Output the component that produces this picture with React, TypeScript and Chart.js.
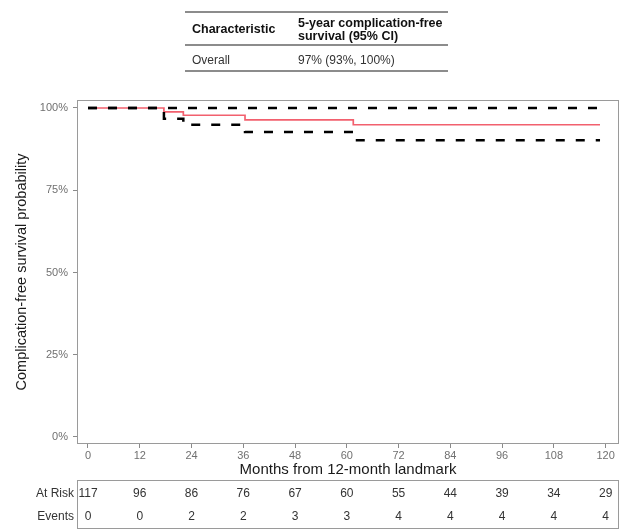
import React, { useEffect, useRef } from 'react';
import { Chart, registerables } from 'chart.js';

Chart.register(...registerables);

const FONT = '"Liberation Sans", Arial, Helvetica, sans-serif';

// ---- data ----
const xTicks = [0, 12, 24, 36, 48, 60, 72, 84, 96, 108, 120];
const yTicks = [0, 0.25, 0.5, 0.75, 1];
const survTimes = [0, 17.6, 22.1, 36.4, 61.5, 118.7];
const survEst = [1, 0.988, 0.978, 0.964, 0.949, 0.949];
const lowerCI = [1, 0.967, 0.949, 0.927, 0.902, 0.902];
const upperCI = [1, 1, 1, 1, 1, 1];
const atRisk = [117, 96, 86, 76, 67, 60, 55, 44, 39, 34, 29];
const events = [0, 0, 2, 2, 3, 3, 4, 4, 4, 4, 4];
const riskRowLabels = ['At Risk', 'Events'];
const tableHeader = ['Characteristic', '5-year complication-free', 'survival (95% CI)'];
const tableRow = ['Overall', '97% (93%, 100%)'];
const xTitle = 'Months from 12-month landmark';
const yTitle = 'Complication-free survival probability';

const toPoints = (ys: number[]) => survTimes.map((t, i) => ({ x: t, y: ys[i] }));

const overlayPlugin = {
  id: 'overlay',
  afterDraw(chart: any) {
    const { ctx, chartArea, scales } = chart;
    const x = scales.x;
    ctx.save();
    // panel border
    ctx.strokeStyle = '#9a9a9a';
    ctx.lineWidth = 1;
    ctx.strokeRect(
      chartArea.left + 0.5,
      chartArea.top + 0.5,
      chartArea.right - chartArea.left - 1,
      chartArea.bottom - chartArea.top - 1
    );
    // risk table box
    const boxTop = 480;
    const boxBottom = 528;
    ctx.strokeRect(chartArea.left + 0.5, boxTop + 0.5, chartArea.right - chartArea.left - 1, boxBottom - boxTop);
    const rowY = [494, 517];
    const rows = [atRisk, events];
    ctx.font = `12px ${FONT}`;
    ctx.fillStyle = '#333';
    ctx.textBaseline = 'middle';
    ctx.textAlign = 'right';
    riskRowLabels.forEach((lab, r) => ctx.fillText(lab, chartArea.left - 3, rowY[r]));
    ctx.textAlign = 'center';
    rows.forEach((vals, r) => {
      xTicks.forEach((t, i) => {
        ctx.fillText(String(vals[i]), x.getPixelForValue(t), rowY[r]);
      });
    });
    ctx.restore();
  },
};

export default function App() {
  const ref = useRef<HTMLCanvasElement>(null);

  useEffect(() => {
    if (!ref.current) return;
    const chart = new Chart(ref.current, {
      type: 'line',
      data: {
        datasets: [
          {
            label: 'Upper CI',
            data: toPoints(upperCI),
            stepped: 'before',
            borderColor: '#000',
            borderWidth: 2.5,
            borderDash: [9, 11],
            pointRadius: 0,
            fill: false,
            order: 1,
          },
          {
            label: 'Lower CI',
            data: toPoints(lowerCI),
            stepped: 'before',
            borderColor: '#000',
            borderWidth: 2.5,
            borderDash: [9, 11],
            pointRadius: 0,
            fill: false,
            order: 1,
          },
          {
            label: 'Estimate',
            data: toPoints(survEst),
            stepped: 'before',
            borderColor: '#F2606E',
            borderWidth: 1.7,
            pointRadius: 0,
            fill: false,
            order: 3,
          },
        ],
      },
      options: {
        animation: false,
        responsive: false,
        devicePixelRatio: 1,
        parsing: false,
        layout: { padding: { top: 100, right: 7, left: 0, bottom: 0 } },
        plugins: {
          legend: { display: false },
          tooltip: { enabled: false },
        },
        scales: {
          x: {
            type: 'linear',
            min: -2.55,
            max: 123.1,
            afterBuildTicks: (s: any) => {
              s.ticks = xTicks.map((v) => ({ value: v }));
            },
            afterFit: (s: any) => {
              s.height = 86;
            },
            ticks: {
              color: '#707070',
              font: { family: FONT, size: 11 },
              padding: 1,
              maxRotation: 0,
              autoSkip: false,
            },
            grid: { drawOnChartArea: false, drawTicks: true, tickLength: 4, color: '#8a8a8a' },
            border: { display: false },
            title: {
              display: true,
              text: xTitle,
              color: '#1a1a1a',
              font: { family: FONT, size: 15 },
              padding: { top: 0, bottom: 51 },
            },
          },
          y: {
            type: 'linear',
            min: -0.0213,
            max: 1.0243,
            afterBuildTicks: (s: any) => {
              s.ticks = yTicks.map((v) => ({ value: v }));
            },
            afterFit: (s: any) => {
              s.width = 77;
            },
            ticks: {
              color: '#707070',
              font: { family: FONT, size: 11 },
              padding: 5,
              callback: (v: any) => `${Math.round(Number(v) * 100)}%`,
            },
            grid: { drawOnChartArea: false, drawTicks: true, tickLength: 4, color: '#8a8a8a' },
            border: { display: false },
            title: {
              display: true,
              text: yTitle,
              color: '#1a1a1a',
              font: { family: FONT, size: 14.5 },
              padding: { top: 13, bottom: 0 },
            },
          },
        },
      },
      plugins: [overlayPlugin],
    } as any);
    return () => chart.destroy();
  }, []);

  const lineStyle = (top: number): React.CSSProperties => ({
    position: 'absolute',
    left: 185,
    top,
    width: 263,
    height: 2,
    background: '#8c8c8c',
  });
  const textStyle = (left: number, top: number, bold: boolean): React.CSSProperties => ({
    position: 'absolute',
    left,
    top,
    fontFamily: FONT,
    fontSize: bold ? 12.5 : 12,
    lineHeight: '12px',
    fontWeight: bold ? 700 : 400,
    color: bold ? '#111' : '#333',
    whiteSpace: 'nowrap',
  });

  return (
    <div
      style={{
        position: 'absolute',
        left: 0,
        top: 0,
        width: 626,
        height: 530,
        background: '#fff',
        overflow: 'hidden',
      }}
    >
      <canvas ref={ref} width={626} height={530} style={{ position: 'absolute', left: 0, top: 0 }} />
      <div style={lineStyle(11)} />
      <div style={textStyle(192, 23, true)}>{tableHeader[0]}</div>
      <div style={textStyle(298, 17, true)}>{tableHeader[1]}</div>
      <div style={textStyle(298, 30, true)}>{tableHeader[2]}</div>
      <div style={lineStyle(44)} />
      <div style={textStyle(192, 54, false)}>{tableRow[0]}</div>
      <div style={textStyle(298, 54, false)}>{tableRow[1]}</div>
      <div style={lineStyle(70)} />
    </div>
  );
}
